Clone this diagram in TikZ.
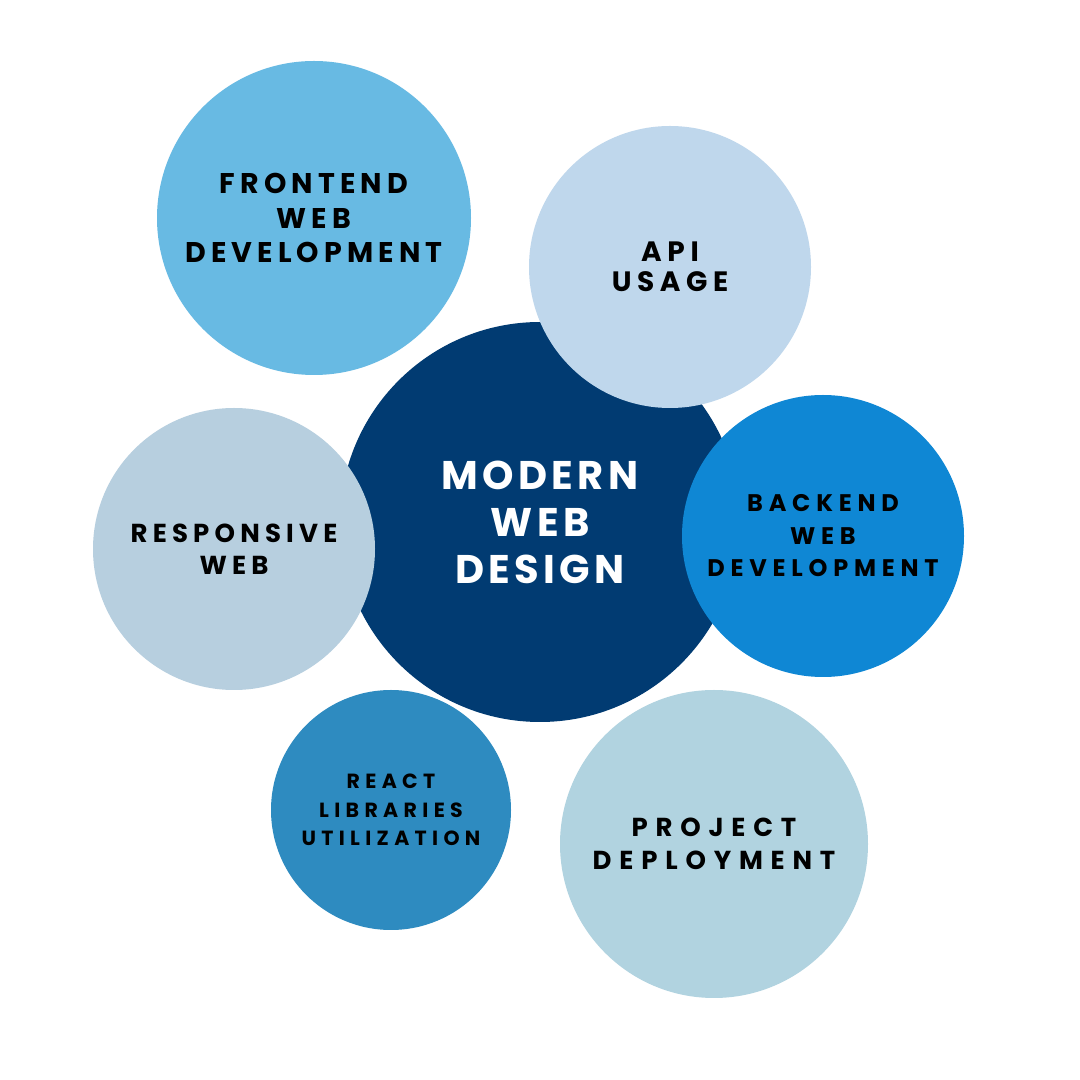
\documentclass[tikz,border=0pt]{standalone}
\usepackage{fontspec}
\newfontfamily\bubblefont{Poppins}[LetterSpace=20]
\definecolor{designblue}{HTML}{013B72}
\definecolor{frontblue}{HTML}{68BAE3}
\definecolor{apiblue}{HTML}{BFD7EC}
\definecolor{backblue}{HTML}{0F87D4}
\definecolor{respblue}{HTML}{B7CFDF}
\definecolor{reactblue}{HTML}{2E8BC0}
\definecolor{deployblue}{HTML}{B1D3E0}

\begin{document}
\begin{tikzpicture}[x=1pt,y=1pt,
    bubble/.style={circle, inner sep=0pt, align=center, text=black}]

    \useasboundingbox (0,0) rectangle (1080,1080);
    \fill[white] (0,0) rectangle (1080,1080);

    % modern web design (centre)
    \node[bubble, fill=designblue, minimum size=400pt, text=white,
        font=\bubblefont\bfseries\addfontfeature{LetterSpace=11}\fontsize{40}{47}\selectfont]
        (design) at (540,558) {MODERN\\WEB\\DESIGN};

    % frontend web development
    \node[bubble, fill=frontblue, minimum size=314pt,
        font=\bubblefont\bfseries\addfontfeature{LetterSpace=18}\fontsize{28.5}{34.5}\selectfont]
        (frontend) at (314,862) {FRONTEND\\WEB\\DEVELOPMENT};

    % api usage
    \node[bubble, fill=apiblue, minimum size=282pt,
        font=\bubblefont\bfseries\fontsize{28}{30}\selectfont]
        (api) at (670,813) {API\\USAGE};

    % backend web development
    \node[bubble, fill=backblue, minimum size=282pt,
        font=\bubblefont\bfseries\addfontfeature{LetterSpace=24}\fontsize{24}{32.5}\selectfont]
        (backend) at (823,544) {BACKEND\\WEB\\DEVELOPMENT};

    % responsive web
    \node[bubble, fill=respblue, minimum size=282pt,
        font=\bubblefont\bfseries\fontsize{26}{32}\selectfont]
        (responsive) at (234,531) {RESPONSIVE\\WEB};

    % react libraries utilization
    \node[bubble, fill=reactblue, minimum size=240pt,
        font=\bubblefont\bfseries\addfontfeature{LetterSpace=26}\fontsize{20.5}{28.5}\selectfont]
        (react) at (391,270) {REACT\\LIBRARIES\\UTILIZATION};

    % project deployment
    \node[bubble, fill=deployblue, minimum size=308pt,
        font=\bubblefont\bfseries\addfontfeature{LetterSpace=30}\fontsize{26}{33}\selectfont]
        (deploy) at (714,236) {PROJECT\\DEPLOYMENT};

\end{tikzpicture}
\end{document}
